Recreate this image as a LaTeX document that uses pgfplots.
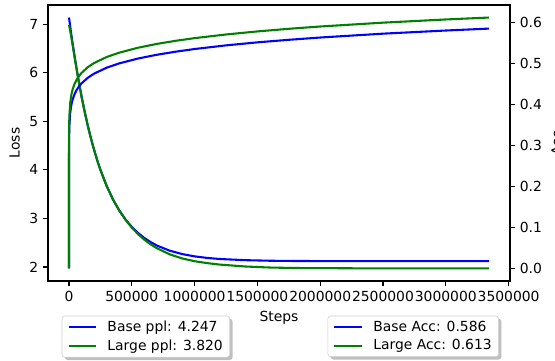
\documentclass[border=0pt]{standalone}
\usepackage{fontspec}
\setmainfont{DejaVu Sans}
\usepackage{pgfplots}
\pgfplotsset{compat=1.18}
\usetikzlibrary{shadows}
\definecolor{mgreen}{rgb}{0,0.5,0}
\definecolor{mblue}{rgb}{0,0,1}

\pgfplotstableread{
t L
0 7.14
10000 6.947
25000 6.671
50000 6.247
75000 5.860
100000 5.512
125000 5.195
150000 4.908
175000 4.647
200000 4.411
225000 4.197
250000 4.003
300000 3.668
350000 3.392
400000 3.166
450000 2.979
500000 2.826
550000 2.701
600000 2.597
650000 2.513
700000 2.442
800000 2.338
900000 2.267
1000000 2.219
1100000 2.187
1200000 2.165
1400000 2.141
1600000 2.129
1800000 2.124
2000000 2.122
2500000 2.120
3344000 2.120
}\baseloss

\pgfplotstableread{
t L
0 6.99
10000 6.86
25000 6.635
50000 6.24
75000 5.860
100000 5.512
125000 5.195
150000 4.908
175000 4.647
200000 4.411
225000 4.197
250000 4.003
300000 3.668
350000 3.392
400000 3.164
450000 2.972
500000 2.811
550000 2.676
600000 2.562
650000 2.467
700000 2.387
800000 2.263
900000 2.177
1000000 2.119
1100000 2.080
1200000 2.050
1400000 2.011
1600000 1.989
1800000 1.979
2000000 1.977
2500000 1.970
3344000 1.970
}\largeloss

\pgfplotstableread{
t A
0 0.0
100 0.2717
1000 0.3220
3000 0.3491
10000 0.3816
20000 0.4017
30000 0.4138
45000 0.4264
60000 0.4356
80000 0.4449
100000 0.4523
150000 0.4660
200000 0.4760
300000 0.4905
400000 0.5010
550000 0.5129
700000 0.5221
850000 0.5296
1000000 0.5361
1250000 0.5450
1500000 0.5524
1750000 0.5586
2000000 0.5642
2500000 0.5736
3000000 0.5813
3344000 0.5860
}\baseacc

\pgfplotstableread{
t A
0 0.0
100 0.2926
1000 0.3445
3000 0.3725
10000 0.4058
20000 0.4262
30000 0.4387
45000 0.4515
60000 0.4608
80000 0.4703
100000 0.4778
150000 0.4918
200000 0.5019
300000 0.5166
400000 0.5272
550000 0.5393
700000 0.5486
850000 0.5562
1000000 0.5627
1250000 0.5716
1500000 0.5791
1750000 0.5855
2000000 0.5911
2500000 0.6005
3000000 0.6083
3344000 0.6130
}\largeacc

\pgfplotsset{
 common/.style={
  scale only axis, width=332.6pt, height=198.7pt,
  xmin=-167200, xmax=3511200,
  tick align=outside, major tick length=3.5pt,
  every tick/.style={black, line width=0.8pt},
  axis line style={line width=0.8pt},
  /pgf/number format/assume math mode=true,
  ticklabel style={font=\fontsize{10}{12}\selectfont},
  label style={font=\fontsize{10}{12}\selectfont},
  legend cell align=left,
  legend image code/.code={%
    \begin{scope}[##1]
    \pgfsetlinewidth{1.5pt}%
    \pgfpathmoveto{\pgfqpoint{0pt}{0pt}}%
    \pgfpathlineto{\pgfqpoint{20pt}{0pt}}%
    \pgfusepath{stroke}%
    \pgfpathmoveto{\pgfqpoint{0pt}{0pt}}%
    \pgfpathlineto{\pgfqpoint{27pt}{0pt}}%
    \pgfusepath{discard}%
    \end{scope}},
  legend style={draw=black!20, rounded corners=2pt, fill=white,
    font=\fontsize{10}{12}\selectfont,
    drop shadow={shadow xshift=2pt, shadow yshift=-2pt, fill=black!50, opacity=0.5},
    inner xsep=4pt, inner ysep=1.5pt, row sep=0.5pt,
    nodes={inner xsep=1pt, inner ysep=2pt}},
 }
}

\begin{document}
\begin{tikzpicture}
\begin{axis}[common, name=main,
  ymin=1.7115, ymax=7.3985,
  ytick={2,3,4,5,6,7},
  xtick={0,500000,1000000,1500000,2000000,2500000,3000000,3500000},
  scaled x ticks=false,
  xticklabel style={/pgf/number format/.cd, fixed, 1000 sep={}},
  xtick pos=bottom, ytick pos=left,
  xlabel={Steps}, ylabel={Loss},
  legend style={at={(axis description cs:0.0297,-0.1257)}, anchor=north west},
]
\addplot[mblue, line width=1.5pt] table[x=t,y=L]{\baseloss};
\addlegendentry{Base ppl: 4.247}
\addplot[mgreen, line width=1.5pt] table[x=t,y=L]{\largeloss};
\addlegendentry{Large ppl: 3.820}
\end{axis}
\begin{axis}[common,
  ymin=-0.03065, ymax=0.64365,
  ytick={0,0.1,0.2,0.3,0.4,0.5,0.6},
  yticklabel style={/pgf/number format/.cd, fixed, fixed zerofill, precision=1},
  axis x line=none, axis y line*=right,
  ylabel={Acc}, ylabel near ticks,
  legend style={at={(axis description cs:0.976,-0.1257)}, anchor=north east},
]
\addplot[mblue, line width=1.5pt] table[x=t,y=A]{\baseacc};
\addlegendentry{Base Acc: 0.586}
\addplot[mgreen, line width=1.5pt] table[x=t,y=A]{\largeacc};
\addlegendentry{Large Acc: 0.613}
\end{axis}
\pgfresetboundingbox
\path[use as bounding box] ([shift={(-34.56pt,-56.88pt)}]main.south west) rectangle ([shift={(32.4pt,3.6pt)}]main.north east);
\end{tikzpicture}
\end{document}
